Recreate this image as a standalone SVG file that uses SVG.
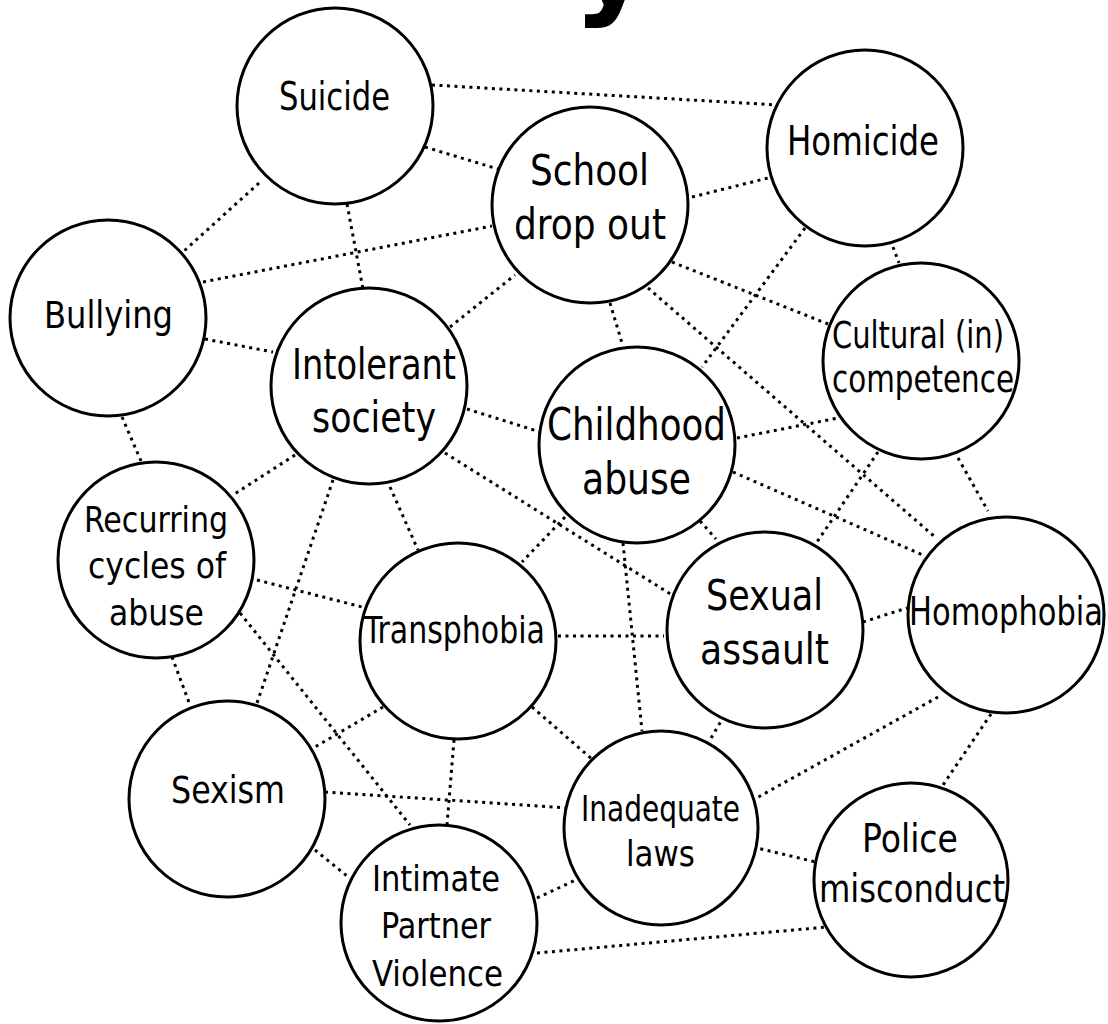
<svg xmlns="http://www.w3.org/2000/svg" width="1108" height="1024" viewBox="0 0 1108 1024">
<style>
.edge{stroke:#000;stroke-width:3;stroke-dasharray:3 4.5;fill:none}
.node circle{fill:#fff;stroke:#000;stroke-width:3}
.node text{font-family:"Liberation Sans Narrow","DejaVu Sans Condensed","Liberation Sans",sans-serif;fill:#000}
.title{font-family:"DejaVu Sans",sans-serif;font-weight:bold;fill:#000}
</style>
<rect width="1108" height="1024" fill="#fff"/>
<text class="title" x="573" y="2" font-size="120">y</text>
<g id="connectors">
<line class="edge" x1="432" y1="85" x2="778" y2="105"/>
<line class="edge" x1="425" y1="147" x2="498" y2="169"/>
<line class="edge" x1="259" y1="183" x2="184" y2="251"/>
<line class="edge" x1="347" y1="204" x2="363" y2="289"/>
<line class="edge" x1="692" y1="197" x2="772" y2="177"/>
<line class="edge" x1="203" y1="282" x2="492" y2="226"/>
<line class="edge" x1="450" y1="327" x2="515" y2="275"/>
<line class="edge" x1="610" y1="303" x2="622" y2="343"/>
<line class="edge" x1="672" y1="262" x2="828" y2="324"/>
<line class="edge" x1="648" y1="288" x2="935" y2="537"/>
<line class="edge" x1="805" y1="228" x2="702" y2="367"/>
<line class="edge" x1="893" y1="247" x2="899" y2="263"/>
<line class="edge" x1="205" y1="339" x2="273" y2="352"/>
<line class="edge" x1="122" y1="417" x2="141" y2="461"/>
<line class="edge" x1="467" y1="409" x2="540" y2="432"/>
<line class="edge" x1="295" y1="455" x2="233" y2="495"/>
<line class="edge" x1="333" y1="480" x2="257" y2="703"/>
<line class="edge" x1="390" y1="487" x2="418" y2="550"/>
<line class="edge" x1="445" y1="453" x2="672" y2="595"/>
<line class="edge" x1="737" y1="438" x2="838" y2="418"/>
<line class="edge" x1="733" y1="472" x2="923" y2="555"/>
<line class="edge" x1="565" y1="517" x2="522" y2="562"/>
<line class="edge" x1="700" y1="521" x2="716" y2="539"/>
<line class="edge" x1="623" y1="543" x2="642" y2="731"/>
<line class="edge" x1="878" y1="452" x2="817" y2="542"/>
<line class="edge" x1="958" y1="458" x2="988" y2="511"/>
<line class="edge" x1="257" y1="580" x2="362" y2="607"/>
<line class="edge" x1="172" y1="657" x2="190" y2="705"/>
<line class="edge" x1="240" y1="613" x2="410" y2="825"/>
<line class="edge" x1="558" y1="636" x2="664" y2="636"/>
<line class="edge" x1="383" y1="707" x2="315" y2="747"/>
<line class="edge" x1="454" y1="740" x2="447" y2="825"/>
<line class="edge" x1="532" y1="707" x2="593" y2="760"/>
<line class="edge" x1="863" y1="622" x2="907" y2="608"/>
<line class="edge" x1="724" y1="716" x2="710" y2="740"/>
<line class="edge" x1="938" y1="697" x2="753" y2="800"/>
<line class="edge" x1="991" y1="714" x2="943" y2="785"/>
<line class="edge" x1="325" y1="792" x2="568" y2="808"/>
<line class="edge" x1="315" y1="850" x2="347" y2="876"/>
<line class="edge" x1="537" y1="898" x2="580" y2="878"/>
<line class="edge" x1="537" y1="953" x2="827" y2="927"/>
<line class="edge" x1="753" y1="847" x2="820" y2="863"/>
</g>
<g id="suicide" class="node"><circle cx="335" cy="106" r="98"/>
<text x="279" y="110" font-size="39" textLength="111" lengthAdjust="spacingAndGlyphs">Suicide</text></g>
<g id="school-drop-out" class="node"><circle cx="590" cy="205" r="98"/>
<text x="530" y="185" font-size="42" textLength="119" lengthAdjust="spacingAndGlyphs">School</text>
<text x="514" y="239" font-size="42" textLength="152" lengthAdjust="spacingAndGlyphs">drop out</text></g>
<g id="homicide" class="node"><circle cx="865" cy="148" r="98"/>
<text x="787" y="155" font-size="41" textLength="152" lengthAdjust="spacingAndGlyphs">Homicide</text></g>
<g id="bullying" class="node"><circle cx="108" cy="318" r="98"/>
<text x="44" y="328" font-size="37" textLength="129" lengthAdjust="spacingAndGlyphs">Bullying</text></g>
<g id="intolerant-society" class="node"><circle cx="369" cy="386" r="98"/>
<text x="292" y="379" font-size="42" textLength="164" lengthAdjust="spacingAndGlyphs">Intolerant</text>
<text x="312" y="432" font-size="42" textLength="124" lengthAdjust="spacingAndGlyphs">society</text></g>
<g id="cultural-incompetence" class="node"><circle cx="921" cy="361" r="98"/>
<text x="832" y="348" font-size="37" textLength="172" lengthAdjust="spacingAndGlyphs">Cultural (in)</text>
<text x="832" y="392" font-size="37" textLength="182" lengthAdjust="spacingAndGlyphs">competence</text></g>
<g id="childhood-abuse" class="node"><circle cx="637" cy="445" r="98"/>
<text x="547" y="440" font-size="44" textLength="179" lengthAdjust="spacingAndGlyphs">Childhood</text>
<text x="582" y="494" font-size="44" textLength="109" lengthAdjust="spacingAndGlyphs">abuse</text></g>
<g id="recurring-cycles" class="node"><circle cx="156" cy="560" r="98"/>
<text x="84" y="532" font-size="35" textLength="144" lengthAdjust="spacingAndGlyphs">Recurring</text>
<text x="88" y="578" font-size="35" textLength="138" lengthAdjust="spacingAndGlyphs">cycles of</text>
<text x="109" y="625" font-size="35" textLength="95" lengthAdjust="spacingAndGlyphs">abuse</text></g>
<g id="transphobia" class="node"><circle cx="458" cy="641" r="98"/>
<text x="364" y="643" font-size="38" textLength="181" lengthAdjust="spacingAndGlyphs">Transphobia</text></g>
<g id="sexual-assault" class="node"><circle cx="765" cy="630" r="98"/>
<text x="706" y="610" font-size="42" textLength="117" lengthAdjust="spacingAndGlyphs">Sexual</text>
<text x="700" y="664" font-size="42" textLength="129" lengthAdjust="spacingAndGlyphs">assault</text></g>
<g id="homophobia" class="node"><circle cx="1006" cy="615" r="98"/>
<text x="909" y="625" font-size="39" textLength="194" lengthAdjust="spacingAndGlyphs">Homophobia</text></g>
<g id="sexism" class="node"><circle cx="227" cy="799" r="98"/>
<text x="171" y="803" font-size="37" textLength="114" lengthAdjust="spacingAndGlyphs">Sexism</text></g>
<g id="intimate-partner-violence" class="node"><circle cx="439" cy="923" r="98"/>
<text x="372" y="891" font-size="36" textLength="128" lengthAdjust="spacingAndGlyphs">Intimate</text>
<text x="381" y="938" font-size="36" textLength="110" lengthAdjust="spacingAndGlyphs">Partner</text>
<text x="372" y="986" font-size="36" textLength="131" lengthAdjust="spacingAndGlyphs">Violence</text></g>
<g id="inadequate-laws" class="node"><circle cx="661" cy="828" r="97"/>
<text x="581" y="821" font-size="36" textLength="159" lengthAdjust="spacingAndGlyphs">Inadequate</text>
<text x="626" y="866" font-size="36" textLength="69" lengthAdjust="spacingAndGlyphs">laws</text></g>
<g id="police-misconduct" class="node"><circle cx="911" cy="880" r="97"/>
<text x="862" y="852" font-size="39" textLength="96" lengthAdjust="spacingAndGlyphs">Police</text>
<text x="819" y="902" font-size="39" textLength="186" lengthAdjust="spacingAndGlyphs">misconduct</text></g>
</svg>
